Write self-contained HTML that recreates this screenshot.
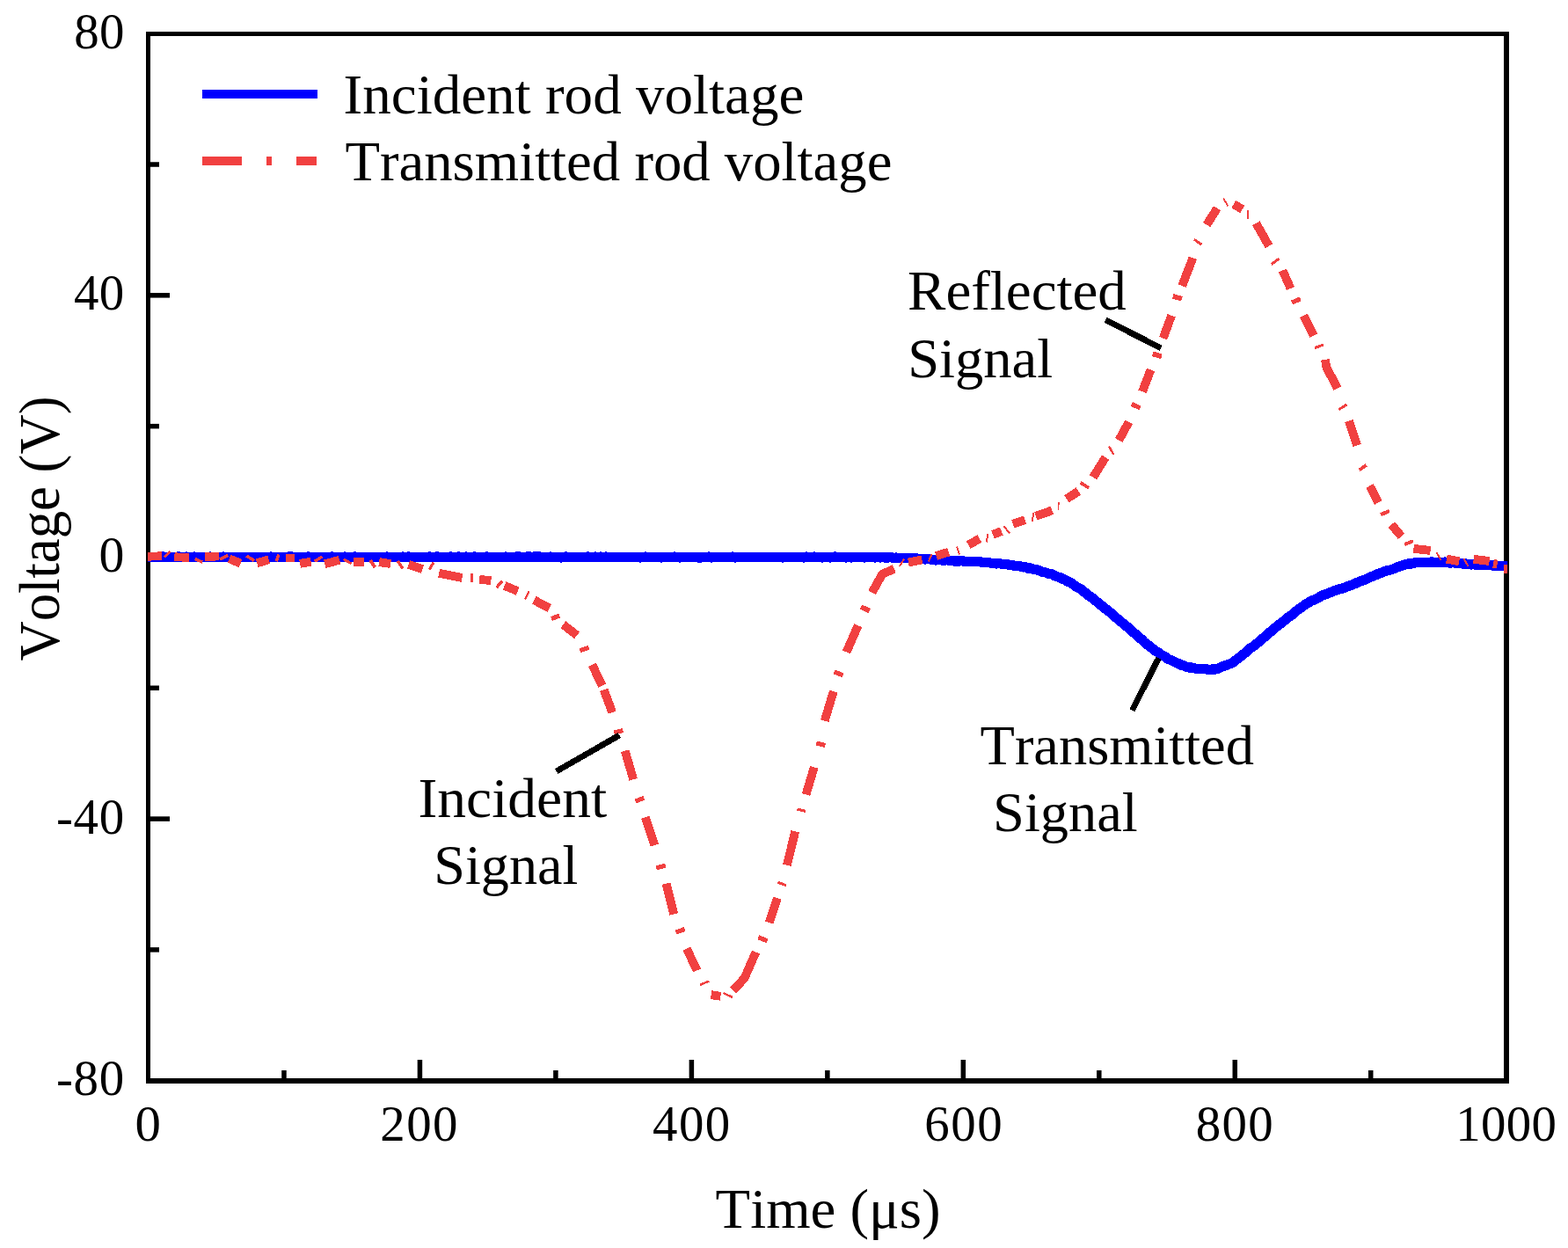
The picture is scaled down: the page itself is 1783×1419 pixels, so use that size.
<!DOCTYPE html>
<html lang="en"><head><meta charset="utf-8"><title>Voltage vs Time</title>
<style>
html,body{margin:0;padding:0;background:#fff;}
body{width:1783px;height:1419px;overflow:hidden;}
svg{display:block;}
text{font-family:"Liberation Serif",serif;fill:#000;font-kerning:none;font-variant-ligatures:none;}
</style></head><body>
<svg width="1783" height="1419" viewBox="0 0 1783 1419">
<rect x="0" y="0" width="1783" height="1419" fill="#fff"/>
<g shape-rendering="crispEdges">
<rect x="166" y="36" width="5" height="1196" fill="#000"/>
<rect x="1710" y="36" width="6" height="1196" fill="#000"/>
<rect x="166" y="36" width="1550" height="5" fill="#000"/>
<rect x="166" y="1226" width="1550" height="6" fill="#000"/>
</g>
<g fill="#000">
<rect x="170" y="333.07" width="23" height="5.5"/>
<rect x="170" y="630.70" width="23" height="5.5"/>
<rect x="170" y="928.33" width="23" height="5.5"/>
<rect x="170" y="184.26" width="11" height="5.5"/>
<rect x="170" y="481.89" width="11" height="5.5"/>
<rect x="170" y="779.51" width="11" height="5.5"/>
<rect x="170" y="1077.14" width="11" height="5.5"/>
<rect x="474.69" y="1205" width="5.5" height="22"/>
<rect x="783.63" y="1205" width="5.5" height="22"/>
<rect x="1092.57" y="1205" width="5.5" height="22"/>
<rect x="1401.51" y="1205" width="5.5" height="22"/>
<rect x="320.22" y="1217" width="5.5" height="10"/>
<rect x="629.16" y="1217" width="5.5" height="10"/>
<rect x="938.10" y="1217" width="5.5" height="10"/>
<rect x="1247.04" y="1217" width="5.5" height="10"/>
<rect x="1555.98" y="1217" width="5.5" height="10"/>
</g>
<rect x="230" y="102" width="131" height="10" fill="#0000ff" shape-rendering="crispEdges"/>
<g fill="#f14040" shape-rendering="crispEdges"><rect x="230" y="178" width="45" height="10"/><rect x="303" y="178" width="6" height="10"/><rect x="337" y="178" width="23" height="10"/></g>
<text transform="translate(390.57,129.00) scale(1.0378,1)" font-size="62.7">Incident rod voltage</text>
<text transform="translate(392.41,204.80) scale(1.0326,1)" font-size="62.7">Transmitted rod voltage</text>
<text transform="translate(1032.09,352.40) scale(1.0355,1)" font-size="62.7">Reflected</text>
<text transform="translate(1032.23,428.60) scale(1.0294,1)" font-size="62.7">Signal</text>
<text transform="translate(475.45,929.30) scale(1.0456,1)" font-size="62.7">Incident</text>
<text transform="translate(493.25,1005.20) scale(1.0242,1)" font-size="62.7">Signal</text>
<text transform="translate(1114.52,869.30) scale(1.0279,1)" font-size="62.7">Transmitted</text>
<text transform="translate(1129.03,945.10) scale(1.0281,1)" font-size="62.7">Signal</text>
<text transform="translate(813.61,1396.10) scale(1.0334,1)" font-size="62.7">Time (μs)</text>
<text transform="translate(84.32,54.70) scale(1.0150,1)" font-size="56.0" letter-spacing="0.32">80</text>
<text transform="translate(83.89,352.32) scale(1.0150,1)" font-size="56.0" letter-spacing="0.55">40</text>
<text transform="translate(112.48,649.95) scale(1.0298,1)" font-size="56.0">0</text>
<text transform="translate(63.97,947.58) scale(1.0150,1)" font-size="56.0" letter-spacing="0.71">-40</text>
<text transform="translate(63.97,1245.20) scale(1.0150,1)" font-size="56.0" letter-spacing="0.71">-80</text>
<text transform="translate(153.44,1296.50) scale(1.0511,1)" font-size="56.0">0</text>
<text transform="translate(432.36,1296.50) scale(1.0150,1)" font-size="56.0" letter-spacing="1.36">200</text>
<text transform="translate(741.99,1296.50) scale(1.0150,1)" font-size="56.0" letter-spacing="1.50">400</text>
<text transform="translate(1051.16,1296.50) scale(1.0150,1)" font-size="56.0" letter-spacing="1.61">600</text>
<text transform="translate(1359.72,1296.50) scale(1.0150,1)" font-size="56.0" letter-spacing="1.38">800</text>
<text transform="translate(1655.33,1296.50) scale(1.0150,1)" font-size="56.0" letter-spacing="0.32">1000</text>
<text transform="translate(67.1,751.6) rotate(-90) scale(1,1.04)" font-size="62.7">Voltage (V)</text>
<defs><clipPath id="plotclip"><rect x="168" y="41" width="1546.2" height="1185"/></clipPath></defs>
<g clip-path="url(#plotclip)" shape-rendering="crispEdges">
<polyline points="164.0,633.0 167.0,633.7 170.0,633.3 173.0,633.6 176.0,633.8 179.0,633.4 182.0,633.4 185.0,633.0 188.0,633.2 191.0,633.4 194.0,633.6 197.0,633.7 200.0,633.3 203.0,633.0 206.0,633.2 209.0,633.8 212.0,633.1 215.0,633.4 218.0,633.8 221.0,633.0 224.0,633.5 227.0,633.8 230.0,633.2 233.0,633.4 236.0,633.8 239.0,633.1 242.0,633.4 245.0,633.6 248.0,633.6 251.0,633.4 254.0,633.1 257.0,633.4 260.0,633.3 263.0,633.4 266.0,633.3 269.0,633.7 272.0,633.6 275.0,633.2 278.0,633.5 281.0,633.2 284.0,633.4 287.0,633.3 290.0,633.5 293.0,633.3 296.0,633.4 299.0,633.6 302.0,633.3 305.0,633.8 308.0,633.1 311.0,633.6 314.0,633.3 317.0,633.3 320.0,633.5 323.0,633.4 326.0,633.3 329.0,633.0 332.0,633.0 335.0,633.6 338.0,633.4 341.0,633.6 344.0,633.8 347.0,633.6 350.0,633.0 353.0,633.2 356.0,633.5 359.0,633.2 362.0,633.8 365.0,633.8 368.0,633.7 371.0,633.4 374.0,633.7 377.0,633.1 380.0,633.2 383.0,633.4 386.0,633.6 389.0,633.4 392.0,633.1 395.0,633.3 398.0,633.2 401.0,633.2 404.0,633.1 407.0,633.3 410.0,633.4 413.0,633.6 416.0,633.7 419.0,633.4 422.0,633.4 425.0,633.7 428.0,633.7 431.0,633.6 434.0,633.7 437.0,633.8 440.0,633.0 443.0,633.7 446.0,633.2 449.0,633.4 452.0,633.7 455.0,633.6 458.0,633.1 461.0,633.5 464.0,633.0 467.0,633.3 470.0,633.7 473.0,633.3 476.0,633.5 479.0,633.6 482.0,633.7 485.0,633.6 488.0,633.0 491.0,633.3 494.0,633.4 497.0,633.0 500.0,633.4 503.0,633.5 506.0,633.7 509.0,633.8 512.0,633.1 515.0,633.2 518.0,633.6 521.0,633.1 524.0,633.2 527.0,633.5 530.0,633.1 533.0,633.7 536.0,633.7 539.0,633.0 542.0,633.4 545.0,633.7 548.0,633.8 551.0,633.2 554.0,633.1 557.0,633.8 560.0,633.8 563.0,633.2 566.0,633.4 569.0,633.6 572.0,633.7 575.0,633.1 578.0,633.6 581.0,633.7 584.0,633.5 587.0,633.1 590.0,633.0 593.0,633.2 596.0,633.7 599.0,633.0 602.0,633.0 605.0,633.3 608.0,633.0 611.0,633.1 614.0,633.0 617.0,633.5 620.0,633.6 623.0,633.4 626.0,633.1 629.0,633.3 632.0,633.5 635.0,633.8 638.0,633.9 641.0,633.2 644.0,633.0 647.0,633.7 650.0,633.8 653.0,633.4 656.0,633.7 659.0,633.8 662.0,633.6 665.0,633.8 668.0,633.0 671.0,633.2 674.0,633.3 677.0,633.1 680.0,633.8 683.0,633.0 686.0,633.6 689.0,633.1 692.0,633.3 695.0,633.4 698.0,633.2 701.0,633.5 704.0,633.5 707.0,633.3 710.0,633.7 713.0,633.2 716.0,633.2 719.0,633.3 722.0,633.4 725.0,633.2 728.0,633.9 731.0,633.8 734.0,633.1 737.0,633.4 740.0,633.2 743.0,633.4 746.0,633.3 749.0,633.5 752.0,633.9 755.0,633.4 758.0,633.6 761.0,633.6 764.0,633.7 767.0,633.1 770.0,633.7 773.0,633.9 776.0,633.6 779.0,633.3 782.0,633.6 785.0,633.7 788.0,633.6 791.0,633.2 794.0,633.9 797.0,633.9 800.0,633.4 803.0,633.6 806.0,633.1 809.0,633.9 812.0,633.8 815.0,633.6 818.0,633.7 821.0,633.2 824.0,633.3 827.0,633.3 830.0,633.6 833.0,633.1 836.0,633.9 839.0,633.5 842.0,633.5 845.0,633.2 848.0,633.7 851.0,633.8 854.0,633.6 857.0,633.3 860.0,633.8 863.0,633.2 866.0,633.8 869.0,633.6 872.0,633.3 875.0,633.5 878.0,633.6 881.0,633.3 884.0,633.8 887.0,633.5 890.0,633.9 893.0,633.8 896.0,633.2 899.0,633.7 902.0,633.4 905.0,633.8 908.0,633.6 911.0,633.5 914.0,633.9 917.0,633.1 920.0,633.6 923.0,633.4 926.0,633.1 929.0,633.8 932.0,633.6 935.0,633.9 938.0,633.6 941.0,633.4 944.0,634.0 947.0,633.2 950.0,633.1 953.0,633.8 956.0,633.4 959.0,633.4 962.0,633.9 965.0,633.4 968.0,633.9 971.0,633.7 974.0,633.4 977.0,633.2 980.0,633.3 983.0,634.0 986.0,633.5 989.0,633.3 992.0,633.4 995.0,634.0 998.0,633.3 1001.0,633.9 1004.0,633.3 1007.0,634.1 1010.0,633.9 1013.0,633.6 1016.0,634.5 1019.0,634.1 1022.0,634.6 1025.0,634.6 1028.0,634.3 1031.0,634.5 1034.0,634.8 1037.0,634.9 1040.0,635.0 1043.0,635.1 1046.0,636.1 1049.0,635.4 1052.0,635.9 1055.0,635.7 1058.0,635.9 1061.0,636.6 1064.0,636.9 1067.0,636.6 1070.0,636.3 1073.0,637.4 1076.0,636.7 1079.0,637.1 1082.0,637.4 1085.0,637.9 1088.0,637.9 1091.0,637.9 1094.0,637.8 1097.0,638.3 1100.0,638.5 1103.0,638.6 1106.0,638.6 1109.0,638.2 1112.0,638.6 1115.0,639.0 1118.0,639.3 1121.0,639.8 1124.0,639.5 1127.0,640.2 1130.0,640.2 1133.0,640.9 1136.0,640.6 1139.0,641.2 1142.0,641.2 1145.0,641.6 1148.0,642.6 1151.0,642.5 1154.0,643.4 1157.0,643.6 1160.0,643.6 1163.0,644.9 1166.0,644.8 1169.0,646.1 1172.0,646.1 1175.0,647.3 1178.0,647.6 1181.0,648.5 1184.0,649.9 1187.0,650.3 1190.0,651.3 1193.0,652.4 1196.0,652.8 1199.0,654.5 1202.0,655.8 1205.0,656.4 1208.0,658.1 1211.0,659.3 1214.0,661.2 1217.0,662.2 1220.0,664.3 1223.0,666.4 1226.0,668.3 1229.0,669.8 1232.0,672.6 1235.0,674.3 1238.0,677.1 1241.0,679.1 1244.0,681.1 1247.0,684.0 1250.0,686.5 1253.0,688.9 1256.0,691.6 1259.0,693.5 1262.0,696.0 1265.0,698.5 1268.0,701.3 1271.0,703.8 1274.0,706.3 1277.0,708.9 1280.0,711.4 1283.0,713.7 1286.0,716.7 1289.0,719.1 1292.0,721.8 1295.0,724.9 1298.0,726.9 1301.0,730.0 1304.0,732.5 1307.0,734.6 1310.0,737.0 1313.0,739.6 1316.0,741.1 1319.0,743.5 1322.0,745.5 1325.0,746.9 1328.0,749.2 1331.0,750.4 1334.0,751.8 1337.0,753.4 1340.0,754.5 1343.0,756.1 1346.0,756.8 1349.0,758.4 1352.0,758.9 1355.0,759.1 1358.0,759.7 1361.0,760.5 1364.0,760.7 1367.0,760.7 1370.0,760.8 1373.0,761.0 1376.0,761.6 1379.0,760.8 1382.0,761.0 1385.0,760.3 1388.0,758.7 1391.0,757.6 1394.0,756.6 1397.0,755.4 1400.0,754.2 1403.0,752.6 1406.0,750.0 1409.0,747.7 1412.0,745.5 1415.0,743.0 1418.0,740.6 1421.0,737.6 1424.0,735.7 1427.0,733.5 1430.0,731.0 1433.0,728.5 1436.0,725.9 1439.0,723.4 1442.0,720.1 1445.0,718.4 1448.0,715.4 1451.0,713.0 1454.0,710.6 1457.0,708.7 1460.0,706.0 1463.0,703.4 1466.0,701.1 1469.0,699.3 1472.0,696.9 1475.0,694.0 1478.0,691.8 1481.0,689.7 1484.0,687.5 1487.0,685.9 1490.0,683.8 1493.0,682.5 1496.0,681.3 1499.0,679.8 1502.0,677.7 1505.0,676.5 1508.0,675.4 1511.0,674.4 1514.0,673.0 1517.0,671.8 1520.0,670.8 1523.0,669.7 1526.0,669.3 1529.0,668.2 1532.0,666.9 1535.0,666.0 1538.0,664.7 1541.0,663.5 1544.0,662.0 1547.0,660.9 1550.0,660.0 1553.0,658.6 1556.0,657.4 1559.0,655.6 1562.0,654.8 1565.0,653.5 1568.0,652.1 1571.0,651.3 1574.0,649.9 1577.0,648.9 1580.0,648.4 1583.0,647.3 1586.0,646.3 1589.0,644.7 1592.0,643.8 1595.0,642.7 1598.0,641.9 1601.0,641.1 1604.0,641.1 1607.0,640.6 1610.0,639.5 1613.0,639.3 1616.0,639.8 1619.0,639.4 1622.0,639.2 1625.0,639.2 1628.0,639.0 1631.0,639.3 1634.0,639.4 1637.0,639.3 1640.0,639.6 1643.0,639.1 1646.0,639.6 1649.0,640.1 1652.0,639.5 1655.0,640.1 1658.0,640.5 1661.0,640.5 1664.0,641.3 1667.0,641.1 1670.0,641.3 1673.0,642.0 1676.0,641.4 1679.0,642.4 1682.0,641.9 1685.0,642.4 1688.0,642.7 1691.0,642.8 1694.0,642.6 1697.0,643.0 1700.0,643.1 1703.0,643.8 1706.0,643.8 1709.0,643.6 1712.0,644.0 1715.0,643.9 1718.0,643.5" fill="none" stroke="#0000ff" stroke-width="11.3" stroke-linejoin="round"/>
<g fill="none" stroke="#f14040" stroke-linecap="butt" stroke-linejoin="round">
<polyline points="168.0,632.7 183.8,632.3" stroke-width="9.8"/>
<polyline points="198.4,633.3 214.8,633.9" stroke-width="9.8"/>
<polyline points="233.4,632.9 248.8,632.5" stroke-width="9.8"/>
<polyline points="260.7,635.3 273.7,640.5" stroke-width="9.8"/>
<polyline points="292.2,640.3 305.7,636.3" stroke-width="9.8"/>
<line x1="186.9" y1="633.3" x2="193.2" y2="627.0" stroke-width="3.0"/>
<line x1="221.8" y1="635.4" x2="230.2" y2="639.2" stroke-width="3.5"/>
<line x1="250.0" y1="635.8" x2="259.3" y2="631.2" stroke-width="3.5"/>
<line x1="280.3" y1="632.1" x2="289.1" y2="637.5" stroke-width="3.5"/>
<polyline points="325.1,634.5 335.0,634.5" stroke-width="9.8"/>
<polyline points="341.1,640.9 353.7,638.6" stroke-width="9.8"/>
<polyline points="369.3,641.3 386.1,636.7" stroke-width="9.8"/>
<polyline points="402.3,639.0 413.9,639.0" stroke-width="9.8"/>
<polyline points="431.1,639.0 444.2,641.1" stroke-width="9.8"/>
<line x1="314.2" y1="638.4" x2="316.7" y2="630.4" stroke-width="3.5"/>
<line x1="357.8" y1="638.4" x2="366.2" y2="632.9" stroke-width="3.5"/>
<line x1="390.8" y1="635.8" x2="399.6" y2="640.9" stroke-width="3.0"/>
<line x1="421.0" y1="637.1" x2="426.5" y2="645.1" stroke-width="4.0"/>
<line x1="452.2" y1="638.0" x2="458.1" y2="646.4" stroke-width="3.5"/>
<polyline points="464.6,642.0 480.5,647.2" stroke-width="9.8"/>
<polyline points="499.1,651.8 525.6,657.0" stroke-width="9.8"/>
<polyline points="545.2,659.0 558.4,660.0" stroke-width="9.8"/>
<line x1="493.0" y1="639.6" x2="488.1" y2="647.6" stroke-width="3.0"/>
<line x1="536.5" y1="652.3" x2="536.5" y2="661.9" stroke-width="3.5"/>
<line x1="564.5" y1="668.2" x2="571.2" y2="660.7" stroke-width="3.5"/>
<polyline points="573.6,665.9 588.8,672.2" stroke-width="9.8"/>
<polyline points="607.4,682.3 624.7,691.6" stroke-width="9.8"/>
<polyline points="640.4,710.2 656.1,722.4" stroke-width="9.8"/>
<polyline points="673.4,755.9 684.7,779.6" stroke-width="9.8"/>
<polyline points="686.6,784.3 696.2,810.0" stroke-width="9.8"/>
<line x1="601.5" y1="672.2" x2="596.9" y2="681.5" stroke-width="2.4"/>
<line x1="626.9" y1="703.5" x2="636.2" y2="700.1" stroke-width="5.1"/>
<line x1="659.5" y1="739.8" x2="669.7" y2="736.4" stroke-width="5.1"/>
<polyline points="710.7,853.7 720.2,886.2" stroke-width="9.8"/>
<polyline points="733.9,929.2 744.3,961.0" stroke-width="9.8"/>
<polyline points="925.8,872.3 916.5,903.5" stroke-width="9.8"/>
<polyline points="904.2,945.4 894.9,983.8" stroke-width="9.8"/>
<line x1="698.3" y1="832.8" x2="708.5" y2="830.7" stroke-width="5.1"/>
<line x1="722.4" y1="911.1" x2="732.2" y2="907.2" stroke-width="5.1"/>
<line x1="746.2" y1="986.7" x2="756.7" y2="984.3" stroke-width="5.1"/>
<line x1="928.3" y1="845.1" x2="938.5" y2="847.6" stroke-width="5.1"/>
<line x1="906.4" y1="920.0" x2="916.0" y2="922.4" stroke-width="3.0"/>
<line x1="884.4" y1="1003.6" x2="893.7" y2="1006.6" stroke-width="2.4"/>
<polyline points="757.5,1004.6 766.3,1039.5" stroke-width="9.8"/>
<polyline points="780.8,1078.7 792.7,1103.4" stroke-width="9.8"/>
<polyline points="808.6,1131.1 819.4,1132.8" stroke-width="9.8"/>
<polyline points="833.8,1126.1 846.5,1112.2 859.5,1082.6" stroke-width="9.8"/>
<polyline points="884.0,1021.2 874.5,1049.1" stroke-width="9.8"/>
<line x1="768.5" y1="1060.1" x2="778.6" y2="1056.4" stroke-width="5.1"/>
<line x1="796.1" y1="1119.8" x2="806.2" y2="1115.6" stroke-width="2.4"/>
<line x1="822.6" y1="1129.1" x2="832.8" y2="1133.9" stroke-width="2.4"/>
<line x1="862.4" y1="1065.7" x2="872.5" y2="1069.9" stroke-width="5.1"/>
<line x1="884.3" y1="1003.1" x2="894.0" y2="1006.8" stroke-width="3.0"/>
<polyline points="947.8,786.0 937.7,819.6" stroke-width="9.8"/>
<polyline points="975.7,711.2 962.5,741.5" stroke-width="9.8"/>
<polyline points="991.6,673.7 1003.1,653.1 1016.6,646.6" stroke-width="9.8"/>
<polyline points="1032.9,639.5 1048.4,636.5" stroke-width="9.8"/>
<polyline points="1064.5,632.1 1078.7,627.7" stroke-width="9.8"/>
<polyline points="1101.2,619.7 1113.9,612.5" stroke-width="9.8"/>
<polyline points="1128.9,607.9 1138.8,604.0" stroke-width="9.8"/>
<polyline points="1151.9,595.9 1165.6,591.0" stroke-width="9.8"/>
<line x1="948.5" y1="764.0" x2="958.6" y2="767.7" stroke-width="5.1"/>
<line x1="978.9" y1="689.9" x2="988.6" y2="694.7" stroke-width="5.7"/>
<line x1="1022.9" y1="643.9" x2="1028.0" y2="635.5" stroke-width="2.0"/>
<line x1="1055.9" y1="638.3" x2="1059.6" y2="629.9" stroke-width="2.0"/>
<line x1="1088.0" y1="621.4" x2="1091.1" y2="630.4" stroke-width="2.0"/>
<line x1="1123.2" y1="607.1" x2="1121.8" y2="616.4" stroke-width="2.0"/>
<line x1="1141.3" y1="598.3" x2="1148.1" y2="606.2" stroke-width="2.0"/>
<line x1="1175.1" y1="583.4" x2="1173.9" y2="592.7" stroke-width="2.0"/>
<polyline points="1177.8,586.9 1196.4,580.3" stroke-width="9.8"/>
<polyline points="1212.8,567.4 1226.3,558.5" stroke-width="9.8"/>
<polyline points="1257.1,520.1 1243.0,542.7" stroke-width="9.8"/>
<polyline points="1283.6,479.8 1272.3,500.5" stroke-width="9.8"/>
<polyline points="1308.5,420.5 1299.0,445.3" stroke-width="9.8"/>
<line x1="1204.0" y1="571.1" x2="1203.3" y2="579.6" stroke-width="1.5"/>
<line x1="1228.5" y1="548.8" x2="1238.1" y2="554.7" stroke-width="3.7"/>
<line x1="1261.0" y1="507.4" x2="1266.2" y2="516.7" stroke-width="2.4"/>
<line x1="1286.8" y1="459.5" x2="1296.6" y2="463.9" stroke-width="5.1"/>
<polyline points="1332.1,358.8 1322.6,384.6" stroke-width="9.8"/>
<polyline points="1356.4,293.3 1344.1,325.1" stroke-width="9.8"/>
<polyline points="1384.0,236.8 1372.2,255.6" stroke-width="9.8"/>
<polyline points="1402.8,232.1 1412.8,238.0" stroke-width="9.8"/>
<polyline points="1428.3,253.9 1443.0,279.8" stroke-width="9.8"/>
<polyline points="1458.4,307.5 1467.6,328.0" stroke-width="9.8"/>
<polyline points="1482.6,358.9 1493.9,381.6" stroke-width="9.8"/>
<line x1="1310.8" y1="402.4" x2="1320.9" y2="405.3" stroke-width="5.7"/>
<line x1="1333.8" y1="336.9" x2="1343.9" y2="339.8" stroke-width="5.7"/>
<line x1="1357.8" y1="272.2" x2="1366.6" y2="278.1" stroke-width="3.0"/>
<line x1="1391.1" y1="225.3" x2="1396.4" y2="234.5" stroke-width="2.0"/>
<line x1="1419.0" y1="239.2" x2="1419.0" y2="249.0" stroke-width="1.6"/>
<line x1="1445.7" y1="300.4" x2="1454.5" y2="294.2" stroke-width="3.0"/>
<line x1="1469.1" y1="344.0" x2="1478.7" y2="339.8" stroke-width="5.1"/>
<line x1="1495.1" y1="395.6" x2="1504.9" y2="391.9" stroke-width="3.0"/>
<polyline points="1506.9,408.8 1508.4,417.8 1520.9,441.6" stroke-width="9.8"/>
<polyline points="1533.8,478.6 1543.3,506.4" stroke-width="9.8"/>
<polyline points="1557.5,552.5 1567.4,571.5" stroke-width="9.8"/>
<polyline points="1582.3,596.5 1593.6,609.9" stroke-width="9.8"/>
<line x1="1522.3" y1="465.6" x2="1531.6" y2="460.0" stroke-width="3.0"/>
<line x1="1545.6" y1="534.4" x2="1553.6" y2="528.9" stroke-width="3.7"/>
<line x1="1570.1" y1="585.2" x2="1579.8" y2="581.0" stroke-width="4.1"/>
<polyline points="1607.4,623.8 1626.6,626.0" stroke-width="9.8"/>
<polyline points="1644.9,635.6 1659.2,638.4" stroke-width="9.8"/>
<polyline points="1675.7,635.8 1693.6,638.0" stroke-width="9.8"/>
<line x1="1597.2" y1="619.0" x2="1606.9" y2="615.2" stroke-width="4.0"/>
<line x1="1633.4" y1="628.3" x2="1638.5" y2="636.7" stroke-width="2.0"/>
<line x1="1664.5" y1="635.4" x2="1669.6" y2="643.8" stroke-width="2.0"/>
<line x1="1701.1" y1="636.3" x2="1699.5" y2="645.9" stroke-width="4.5"/>
</g>
<rect x="1710" y="642.2" width="4.2" height="9.6" fill="#f14040"/>
</g>
<g stroke="#000" stroke-width="6.9" fill="none" shape-rendering="crispEdges">
<line x1="1257.2" y1="363.7" x2="1320.0" y2="395.8"/>
<line x1="632.7" y1="877.0" x2="704.3" y2="836.0"/>
<line x1="1317.6" y1="748.1" x2="1287.4" y2="807.7"/>
</g>
</svg>
</body></html>
